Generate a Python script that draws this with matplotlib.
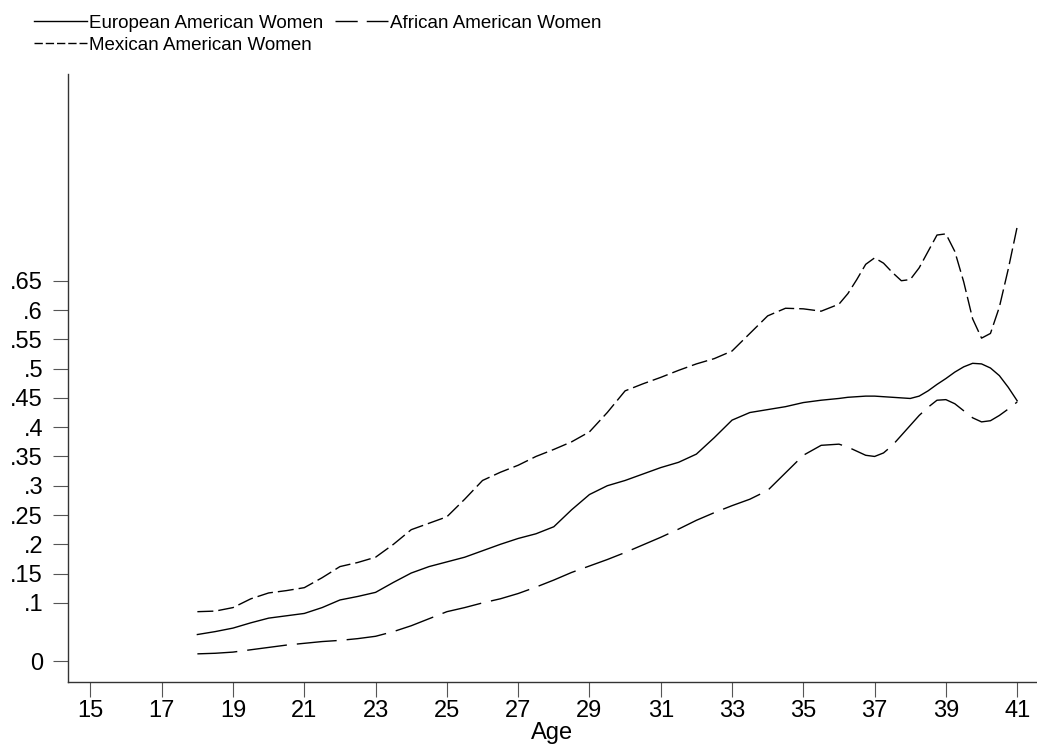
import matplotlib
matplotlib.use("Agg")
import matplotlib.pyplot as plt
from matplotlib.lines import Line2D

# ages (half years to 36, quarter years after)
age = [18, 18.5, 19, 19.5, 20, 20.5, 21, 21.5, 22, 22.5, 23, 23.5, 24, 24.5,
       25, 25.5, 26, 26.5, 27, 27.5, 28, 28.5, 29, 29.5, 30, 30.5, 31, 31.5,
       32, 32.5, 33, 33.5, 34, 34.5, 35, 35.5,
       36, 36.25, 36.5, 36.75, 37, 37.25, 37.5, 37.75, 38, 38.25, 38.5, 38.75,
       39, 39.25, 39.5, 39.75, 40, 40.25, 40.5, 40.75, 41]

european = [0.046, 0.051, 0.057, 0.066, 0.074, 0.078, 0.082, 0.092, 0.105, 0.111,
            0.118, 0.135, 0.151, 0.162, 0.170, 0.178, 0.189, 0.200, 0.210, 0.218,
            0.230, 0.259, 0.285, 0.300, 0.309, 0.320, 0.331, 0.340, 0.354, 0.382,
            0.412, 0.425, 0.430, 0.435, 0.442, 0.446,
            0.449, 0.451, 0.452, 0.453, 0.453, 0.452, 0.451, 0.450, 0.449, 0.453,
            0.462, 0.473, 0.483, 0.494, 0.503, 0.509, 0.508, 0.501, 0.488, 0.468,
            0.445]

african = [0.013, 0.014, 0.016, 0.020, 0.024, 0.028, 0.031, 0.034, 0.036, 0.039,
           0.043, 0.051, 0.061, 0.073, 0.085, 0.092, 0.100, 0.107, 0.116, 0.127,
           0.139, 0.152, 0.163, 0.174, 0.186, 0.199, 0.212, 0.226, 0.241, 0.254,
           0.266, 0.277, 0.292, 0.322, 0.352, 0.369,
           0.371, 0.366, 0.359, 0.352, 0.350, 0.356, 0.369, 0.386, 0.403, 0.420,
           0.434, 0.446, 0.447, 0.440, 0.428, 0.416, 0.409, 0.411, 0.420, 0.431,
           0.443]

mexican = [0.085, 0.086, 0.092, 0.107, 0.117, 0.121, 0.126, 0.143, 0.162, 0.169,
           0.178, 0.200, 0.225, 0.236, 0.247, 0.277, 0.309, 0.323, 0.335, 0.350,
           0.362, 0.375, 0.392, 0.425, 0.462, 0.474, 0.485, 0.497, 0.508, 0.517,
           0.530, 0.560, 0.590, 0.603, 0.602, 0.598,
           0.610, 0.628, 0.652, 0.678, 0.689, 0.680, 0.664, 0.650, 0.652, 0.672,
           0.700, 0.728, 0.730, 0.700, 0.648, 0.585, 0.552, 0.560, 0.605, 0.670,
           0.742]

xticks = list(range(15, 42, 2))
yticks = [0, 0.1, 0.15, 0.2, 0.25, 0.3, 0.35, 0.4, 0.45, 0.5, 0.55, 0.6, 0.65]
ytick_labels = ['0', '.1', '.15', '.2', '.25', '.3', '.35', '.4', '.45', '.5',
                '.55', '.6', '.65']

font = ['Liberation Sans', 'DejaVu Sans']

fig = plt.figure(figsize=(10.37, 7.5), dpi=100)
ax = fig.add_axes([0.0656, 0.0907, 0.9344, 0.8107])

# plot the three lines
ax.plot(age, european, color='black', lw=1.0)
ax.plot(age, african, color='black', lw=1.0, dashes=(28.8, 7.2))
ax.plot(age, mexican, color='black', lw=1.0, dashes=(11.5, 3.6))

ax.set_xlim(14.371, 41.556)
ax.set_ylim(-0.035, 1.003)
ax.set_xticks(xticks)
ax.set_xticklabels([str(t) for t in xticks], family=font, fontsize=17)
ax.set_yticks(yticks)
ax.set_yticklabels(ytick_labels, family=font, fontsize=17)
ax.tick_params(axis='both', direction='out', length=11, width=0.8, color='#555555')
ax.tick_params(axis='y', pad=7)
ax.tick_params(axis='x', pad=2)

ax.spines['top'].set_visible(False)
ax.spines['right'].set_visible(False)
for s in ['left', 'bottom']:
    ax.spines[s].set_color('#333333')
    ax.spines[s].set_linewidth(1.0)

ax.set_xlabel('Age', family=font, fontsize=17, labelpad=0)

# legend with its own dash samples (sized to fit the handle length)
handles = [
    Line2D([], [], color='black', lw=1.0),
    Line2D([], [], color='black', lw=1.0, dashes=(6.0, 2.1)),
    Line2D([], [], color='black', lw=1.0, dashes=(16.0, 6.5)),
]
labels = ['European American Women', 'Mexican American Women', 'African American Women']
fig.legend(handles, labels, loc='upper left', bbox_to_anchor=(0.031, 0.983),
           ncol=2, frameon=False, prop={'family': font, 'size': 13.5},
           handlelength=2.85, handletextpad=0.1, columnspacing=0.6,
           labelspacing=0.25, borderpad=0.1, borderaxespad=0)

fig.savefig('out.png', dpi=100)
